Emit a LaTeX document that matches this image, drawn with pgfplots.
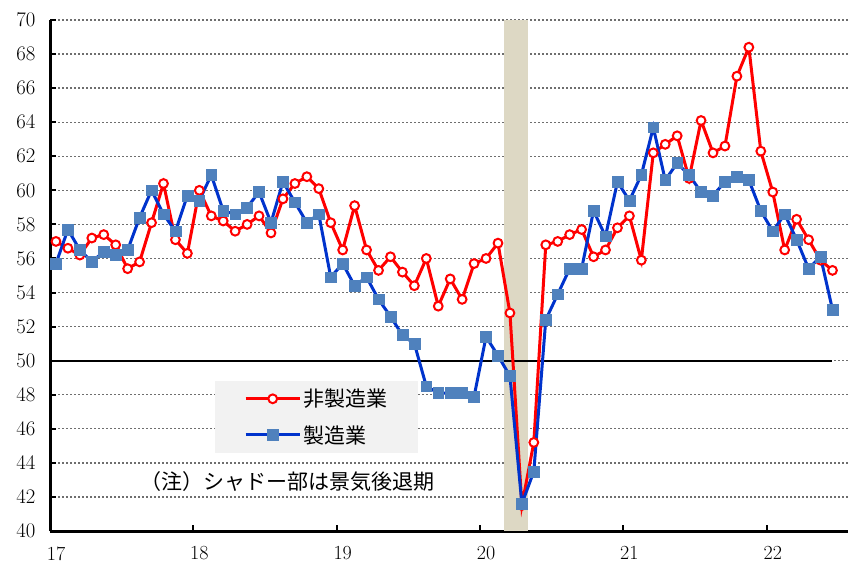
\documentclass[border=0pt]{standalone}
\usepackage{pgfplots}
\pgfplotsset{compat=1.18}
\usepackage{pgfplotstable}
\usepackage{fontspec}
\newfontfamily\cjk{Noto Sans CJK JP}
\definecolor{band}{RGB}{221,216,196}
\definecolor{nmred}{RGB}{255,0,0}
\definecolor{mblue}{RGB}{0,51,204}
\definecolor{mfill}{RGB}{79,129,189}
\definecolor{legbg}{RGB}{242,242,242}
\definecolor{gridc}{RGB}{110,110,110}

\pgfplotstableread{
m nm mfg
0 57.0 55.7
1 56.6 57.7
2 56.2 56.5
3 57.2 55.8
4 57.4 56.4
5 56.8 56.2
6 55.4 56.5
7 55.8 58.4
8 58.1 60.0
9 60.4 58.6
10 57.1 57.6
11 56.3 59.7
12 60.0 59.4
13 58.5 60.9
14 58.2 58.8
15 57.6 58.6
16 58.0 59.0
17 58.5 59.9
18 57.5 58.1
19 59.5 60.5
20 60.4 59.3
21 60.8 58.1
22 60.1 58.6
23 58.1 54.9
24 56.5 55.7
25 59.1 54.4
26 56.5 54.9
27 55.3 53.6
28 56.1 52.6
29 55.2 51.5
30 54.4 51.0
31 56.0 48.5
32 53.2 48.1
33 54.8 48.1
34 53.6 48.1
35 55.7 47.9
36 56.0 51.4
37 56.9 50.3
38 52.8 49.1
39 41.5 41.6
40 45.2 43.5
41 56.8 52.4
42 57.0 53.9
43 57.4 55.4
44 57.7 55.4
45 56.1 58.8
46 56.5 57.3
47 57.8 60.5
48 58.5 59.4
49 55.9 60.9
50 62.2 63.7
51 62.7 60.6
52 63.2 61.6
53 60.7 60.9
54 64.1 59.9
55 62.2 59.7
56 62.6 60.5
57 66.7 60.8
58 68.4 60.6
59 62.3 58.8
60 59.9 57.6
61 56.5 58.6
62 58.3 57.1
63 57.1 55.4
64 55.9 56.1
65 55.3 53.0
}\ismdata

\begin{document}
\begin{tikzpicture}
\path[use as bounding box] (0pt,0pt) rectangle (850pt,563pt);
\begin{axis}[
  at={(50pt,32pt)}, anchor=south west,
  scale only axis,
  width=798pt, height=511pt,
  xmin=0, xmax=66.8,
  ymin=40, ymax=70,
  axis x line*=bottom, axis y line*=left,
  axis line style={line width=3pt, black, -},
  xtick={0,12,24,36,48,60},
  xticklabels={17,18,19,20,21,22},
  ytick={40,42,...,70},
  tick align=inside,
  major tick length=6pt,
  tick style={black, line width=2pt},
  ymajorgrids,
  grid style={gridc, line width=1.3pt, dash pattern=on 2pt off 2pt},
  tick label style={font=\fontsize{20}{24}\selectfont},
  xticklabel style={xshift=6pt, yshift=-12pt},
  yticklabel style={xshift=-11pt},
  legend style={at={(0.2068,0.2935)}, anchor=north west,
     fill=legbg, draw=none, inner xsep=29pt, inner ysep=6pt,
     row sep=13pt,
     font=\cjk\fontsize{21}{25}\selectfont},
  legend cell align=left,
  legend image code/.code={\draw[mark repeat=2,mark phase=2,#1] plot coordinates {(2pt,0pt) (29pt,0pt) (56pt,0pt)};},
]
\addplot[fill=band, draw=none, forget plot] coordinates {(38,40) (40,40) (40,70) (38,70)} -- cycle;
\addplot[black, line width=2.2pt, forget plot] coordinates {(0,50) (65.5,50)};
\addplot[nmred, line width=3pt, mark=*, mark size=4.4pt,
   mark options={fill=white, draw=nmred, line width=2pt}]
   table[x expr=\thisrow{m}+0.5, y=nm] {\ismdata};
\addlegendentry{非製造業}
\addplot[mblue, line width=3pt, mark=square*, mark size=5.4pt,
   mark options={fill=mfill, draw=mfill, line width=0.5pt}]
   table[x expr=\thisrow{m}+0.5, y=mfg] {\ismdata};
\addlegendentry{製造業}
\node[anchor=west, font=\cjk\fontsize{21}{25}\selectfont, inner sep=0pt] at (rel axis cs:0.1128,0.0959) {（注）シャドー部は景気後退期};
\end{axis}
\end{tikzpicture}
\end{document}
